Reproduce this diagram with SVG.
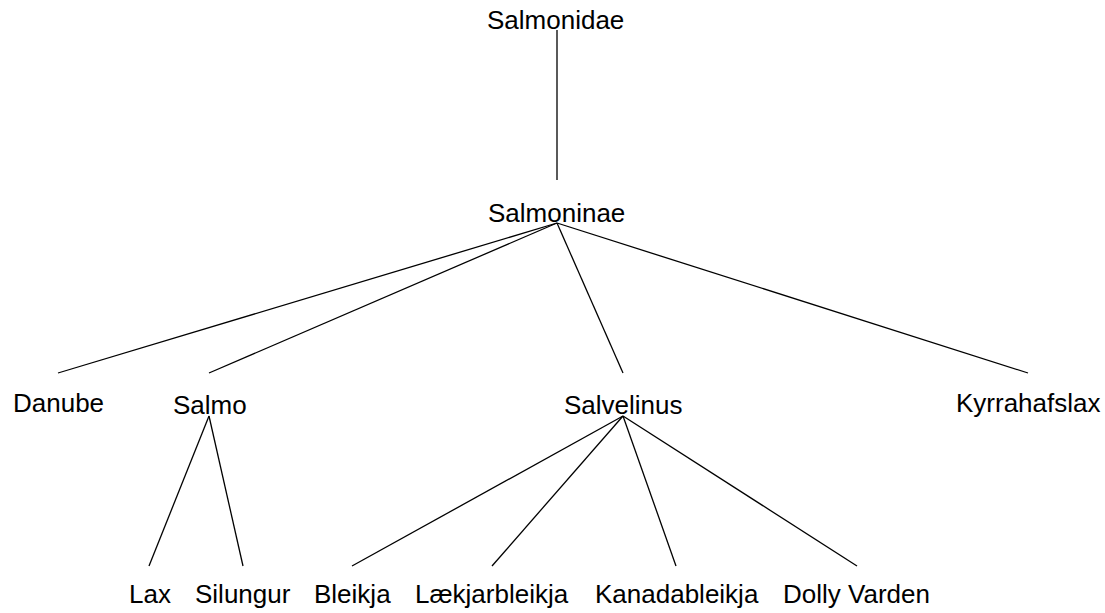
<svg xmlns="http://www.w3.org/2000/svg" width="1105" height="613" viewBox="0 0 1105 613">
<style>
text{font-family:"Liberation Sans",Arial,sans-serif;font-size:26px;fill:#000}
.e{stroke:#000;stroke-width:1.3;fill:none}
</style>
<rect width="1105" height="613" fill="#fff"/>
<g id="connectors">
<line class="e" x1="557" y1="30" x2="557" y2="180"/>
<line class="e" x1="557" y1="223" x2="58" y2="373"/>
<line class="e" x1="557" y1="223" x2="209" y2="373"/>
<line class="e" x1="557" y1="223" x2="623" y2="373"/>
<line class="e" x1="557" y1="223" x2="1028" y2="373"/>
<line class="e" x1="209" y1="416" x2="149" y2="566"/>
<line class="e" x1="209" y1="416" x2="243" y2="566"/>
<line class="e" x1="623" y1="416" x2="352" y2="566"/>
<line class="e" x1="623" y1="416" x2="492" y2="566"/>
<line class="e" x1="623" y1="416" x2="676" y2="566"/>
<line class="e" x1="623" y1="416" x2="857" y2="566"/>
</g>
<g id="n-salmonidae"><text x="487" y="29">Salmonidae</text></g>
<g id="n-salmoninae"><text x="488" y="222">Salmoninae</text></g>
<g id="n-danube"><text x="13" y="412">Danube</text></g>
<g id="n-salmo"><text x="173" y="414">Salmo</text></g>
<g id="n-salvelinus"><text x="564" y="414">Salvelinus</text></g>
<g id="n-kyrrahafslax"><text x="956" y="412">Kyrrahafslax</text></g>
<g id="n-lax"><text x="129" y="603">Lax</text></g>
<g id="n-silungur"><text x="195" y="603">Silungur</text></g>
<g id="n-bleikja"><text x="314" y="603">Bleikja</text></g>
<g id="n-laekjarbleikja"><text x="415" y="603">Lækjarbleikja</text></g>
<g id="n-kanadableikja"><text x="595" y="603">Kanadableikja</text></g>
<g id="n-dollyvarden"><text x="783" y="603">Dolly Varden</text></g>
</svg>
